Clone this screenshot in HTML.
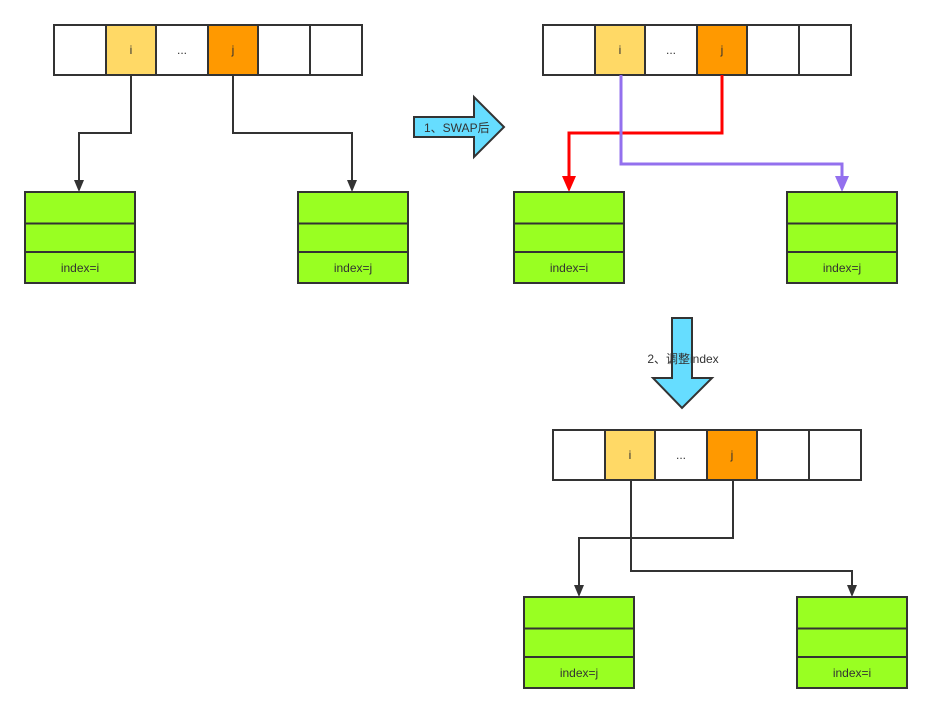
<!DOCTYPE html>
<html><head><meta charset="utf-8"><style>
html,body{margin:0;padding:0;background:#fff;width:932px;height:713px;overflow:hidden}
svg text{font-family:"Liberation Sans","Microsoft YaHei","Noto Sans CJK SC",sans-serif;font-size:12px;fill:#333}
</style></head><body>
<svg width="932" height="713" viewBox="0 0 932 713" xmlns="http://www.w3.org/2000/svg">
<defs>
<g id="arr">
<rect x="0" y="0" width="52" height="50" fill="#fff" stroke="#333" stroke-width="2"/>
<rect x="52" y="0" width="50" height="50" fill="#ffd966" stroke="#333" stroke-width="2"/>
<rect x="102" y="0" width="52" height="50" fill="#fff" stroke="#333" stroke-width="2"/>
<rect x="154" y="0" width="50" height="50" fill="#ff9900" stroke="#333" stroke-width="2"/>
<rect x="204" y="0" width="52" height="50" fill="#fff" stroke="#333" stroke-width="2"/>
<rect x="256" y="0" width="52" height="50" fill="#fff" stroke="#333" stroke-width="2"/>
<text x="77" y="29" text-anchor="middle">i</text>
<text x="128" y="29" text-anchor="middle">...</text>
<text x="179" y="29" text-anchor="middle">j</text>
</g>
<g id="box">
<rect x="0" y="0" width="110" height="91" fill="#99ff22" stroke="#333" stroke-width="2"/>
<line x1="0" y1="31.5" x2="110" y2="31.5" stroke="#333" stroke-width="2"/>
<line x1="0" y1="60" x2="110" y2="60" stroke="#333" stroke-width="2"/>
</g>
<marker id="mk" markerWidth="10" markerHeight="10" refX="5" refY="9" orient="auto" markerUnits="userSpaceOnUse"><path d="M0,0 L10,0 L5,10 z" fill="#333"/></marker>
</defs>

<use href="#arr" x="54" y="25"/>
<use href="#arr" x="543" y="25"/>
<use href="#arr" x="553" y="430"/>

<!-- left connectors -->
<path d="M131,75 V133 H79 V182" fill="none" stroke="#333" stroke-width="2"/>
<path d="M74,180 L84,180 L79,192 z" fill="#333"/>
<path d="M233,75 V133 H352 V182" fill="none" stroke="#333" stroke-width="2"/>
<path d="M347,180 L357,180 L352,192 z" fill="#333"/>

<!-- right connectors -->
<path d="M722,75 V133 H569 V178" fill="none" stroke="#ff0000" stroke-width="3"/>
<path d="M562,176 L576,176 L569,192 z" fill="#ff0000"/>
<path d="M621,75 V164 H842 V178" fill="none" stroke="#9370ee" stroke-width="3"/>
<path d="M835,176 L849,176 L842,192 z" fill="#9370ee"/>

<!-- bottom connectors -->
<path d="M733,480 V538 H579 V587" fill="none" stroke="#333" stroke-width="2"/>
<path d="M574,585 L584,585 L579,597 z" fill="#333"/>
<path d="M631,480 V571 H852 V587" fill="none" stroke="#333" stroke-width="2"/>
<path d="M847,585 L857,585 L852,597 z" fill="#333"/>

<use href="#box" x="25" y="192"/>
<use href="#box" x="298" y="192"/>
<use href="#box" x="514" y="192"/>
<use href="#box" x="787" y="192"/>
<use href="#box" x="524" y="597"/>
<use href="#box" x="797" y="597"/>
<text x="80" y="272" text-anchor="middle">index=i</text>
<text x="353" y="272" text-anchor="middle">index=j</text>
<text x="569" y="272" text-anchor="middle">index=i</text>
<text x="842" y="272" text-anchor="middle">index=j</text>
<text x="579" y="677" text-anchor="middle">index=j</text>
<text x="852" y="677" text-anchor="middle">index=i</text>

<!-- swap arrow -->
<path d="M414,117 H474 V97 L504,127 L474,157 V137 H414 z" fill="#66ddff" stroke="#333" stroke-width="2"/>
<text x="424" y="132">1、SWAP后</text>

<!-- down arrow -->
<path d="M672,318 H692 V378 H712 L682,408 L653,378 H672 z" fill="#66ddff" stroke="#333" stroke-width="2"/>
<text x="683" y="363" text-anchor="middle">2、调整index</text>
</svg>
</body></html>
